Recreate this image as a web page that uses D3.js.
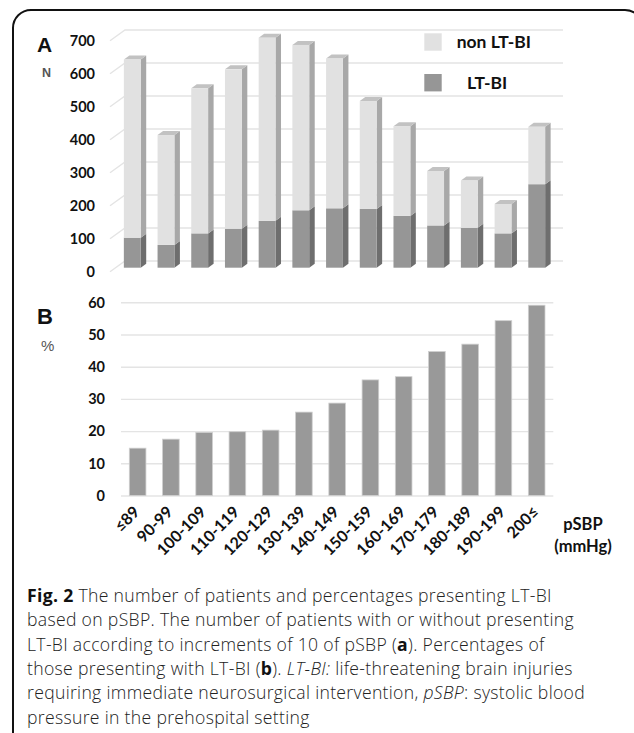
<!DOCTYPE html>
<html>
<head>
<meta charset="utf-8">
<script src="https://cdn.jsdelivr.net/npm/d3@7"></script>
<style>
  html, body { margin: 0; padding: 0; background: #fff; }
  svg { display: block; }
</style>
</head>
<body>
<svg id="fig" width="634" height="733"></svg>
<script>
// pSBP groups (mmHg)
const categories = ["≤89", "90-99", "100-109", "110-119", "120-129", "130-139", "140-149",
  "150-159", "160-169", "170-179", "180-189", "190-199", "200≤"];
// Panel A: number of patients
const ltbiCounts    = [91, 69, 104, 118, 142, 174, 180, 178, 157, 128, 121, 104, 253];
const nonLtbiCounts = [540, 333, 440, 483, 555, 501, 454, 327, 272, 165, 143, 89, 174];
// Panel B: percentage presenting LT-BI
const ltbiPercent = [14.7, 17.5, 19.6, 19.8, 20.3, 25.9, 28.7, 35.9, 36.9, 44.7, 47.0, 54.3, 59.1];
// Axis ticks
const ticksA = [0, 100, 200, 300, 400, 500, 600, 700];
const ticksB = [0, 10, 20, 30, 40, 50, 60];
const seriesNames = ["LT-BI", "non LT-BI"];

const svg = d3.select("#fig");
const boldFont = "Lato, 'Open Sans', sans-serif";

// outer frame
svg.append("rect")
  .attr("x", 13).attr("y", 10).attr("width", 630).attr("height", 740)
  .attr("rx", 18).attr("ry", 18)
  .attr("fill", "none").attr("stroke", "#111").attr("stroke-width", 2);

// ---------- Panel A: stacked 3D columns ----------
const xA = d3.scaleBand().domain(categories).range([107, 562]).paddingInner(0.5).paddingOuter(0.5);
const yA = d3.scaleLinear().domain([0, 700]).range([267.7, 36.7]);
const depth = { dx: 5.5, dy: 4 };       // bar thickness
const wall = { dx: 15, dy: 10.7 };      // floor depth for the gridlines
const gA = svg.append("g");

// gridlines on back wall with slanted side edge
const gridA = gA.append("g");
ticksA.forEach(v => {
  const yf = yA(v) + 4, yb = yf - wall.dy;
  gridA.append("path")
    .attr("d", `M110,${yf}L${110 + wall.dx},${yb}L563,${yb}`)
    .attr("fill", "none").attr("stroke", "#e4e4e4").attr("stroke-width", 1.4);
});

// y tick labels
gA.append("g").selectAll("text").data(ticksA).join("text")
  .attr("x", 95).attr("y", d => yA(d) + 4)
  .attr("dy", "0.36em").attr("text-anchor", "end")
  .attr("font-family", boldFont).attr("font-weight", 700).attr("font-size", 14.5)
  .attr("fill", "#111").text(d => d);

const stackRows = categories.map((c, i) => ({ cat: c, "LT-BI": ltbiCounts[i], "non LT-BI": nonLtbiCounts[i] }));
const stacked = d3.stack().keys(seriesNames)(stackRows);
const faceColors = {
  "LT-BI":     { front: "#969696", side: "#6e6e6e", top: "#7f7f7f" },
  "non LT-BI": { front: "#e1e1e1", side: "#a8a8a8", top: "#c2c2c2" }
};
const bw = xA.bandwidth();
stacked.forEach((layer, li) => {
  const col = faceColors[layer.key];
  const lg = gA.append("g");
  layer.forEach(seg => {
    const x = xA(seg.data.cat);
    const y0 = yA(seg[0]), y1 = yA(seg[1]);
    // side face
    lg.append("path")
      .attr("d", `M${x + bw},${y1}L${x + bw + depth.dx},${y1 - depth.dy}L${x + bw + depth.dx},${y0 - depth.dy}L${x + bw},${y0}Z`)
      .attr("fill", col.side);
    // top face on the upper segment
    if (li === stacked.length - 1) {
      lg.append("path")
        .attr("d", `M${x},${y1}L${x + depth.dx},${y1 - depth.dy}L${x + bw + depth.dx},${y1 - depth.dy}L${x + bw},${y1}Z`)
        .attr("fill", col.top);
    }
    // front face
    lg.append("rect")
      .attr("x", x).attr("y", y1).attr("width", bw).attr("height", y0 - y1)
      .attr("fill", col.front);
  });
});

// legend
const legend = gA.append("g");
const legendItems = [
  { key: "non LT-BI", y: 33.3, tx: 456.7 },
  { key: "LT-BI", y: 74, tx: 467 }
];
legendItems.forEach(it => {
  legend.append("rect").attr("x", 424.3).attr("y", it.y).attr("width", 17.4).attr("height", 17.4)
    .attr("fill", faceColors[it.key].front);
  legend.append("text").attr("x", it.tx).attr("y", it.y + 8.7).attr("dy", "0.36em")
    .attr("font-family", boldFont).attr("font-weight", 700).attr("font-size", 17.5)
    .attr("fill", "#111").text(it.key);
});

// panel letter + unit
svg.append("text").attr("x", 37).attr("y", 52).attr("font-family", "'Liberation Sans', Arial, sans-serif")
  .attr("font-weight", 700).attr("font-size", 21).attr("fill", "#111").text("A");
svg.append("text").attr("x", 42).attr("y", 77).attr("font-family", "'Liberation Sans', Arial, sans-serif")
  .attr("font-weight", 700).attr("font-size", 12.5).attr("fill", "#555").text("N");

// ---------- Panel B: percentage columns ----------
const xB = d3.scaleBand().domain(categories).range([121, 553.3]).paddingInner(0.5).paddingOuter(0.25);
const yB = d3.scaleLinear().domain([0, 60]).range([495.5, 302.3]);
const gB = svg.append("g");

gB.append("g").attr("transform", "translate(121,0)")
  .call(d3.axisLeft(yB).tickValues(ticksB).tickSize(-(553.3 - 121)).tickFormat(""))
  .call(g => g.select(".domain").remove())
  .call(g => g.selectAll("line").attr("stroke", "#e4e4e4").attr("stroke-width", 1.4));

gB.append("g").selectAll("text").data(ticksB).join("text")
  .attr("x", 105).attr("y", d => yB(d))
  .attr("dy", "0.36em").attr("text-anchor", "end")
  .attr("font-family", boldFont).attr("font-weight", 700).attr("font-size", 14.5)
  .attr("fill", "#111").text(d => d);

gB.append("g").selectAll("rect").data(categories).join("rect")
  .attr("x", d => xB(d)).attr("width", xB.bandwidth())
  .attr("y", (d, i) => yB(ltbiPercent[i]))
  .attr("height", (d, i) => yB(0) - yB(ltbiPercent[i]))
  .attr("fill", "#999999").attr("stroke", "#cfcfcf").attr("stroke-width", 0.8);

// rotated category labels
gB.append("g").selectAll("text").data(categories).join("text")
  .attr("transform", d => `translate(${xB(d) + xB.bandwidth() / 2 + 3},${513}) rotate(-45)`)
  .attr("text-anchor", "end")
  .attr("font-family", boldFont).attr("font-weight", 700).attr("font-size", 16)
  .attr("fill", "#111").text(d => d);

// x-axis title
const xt = gB.append("text").attr("text-anchor", "middle")
  .attr("font-family", boldFont).attr("font-weight", 700).attr("font-size", 16.5).attr("fill", "#111");
xt.append("tspan").attr("x", 583).attr("y", 530).text("pSBP");
xt.append("tspan").attr("x", 583).attr("y", 552).text("(mmHg)");

svg.append("text").attr("x", 37).attr("y", 324).attr("font-family", "'Liberation Sans', Arial, sans-serif")
  .attr("font-weight", 700).attr("font-size", 22).attr("fill", "#111").text("B");
svg.append("text").attr("x", 41).attr("y", 351).attr("font-family", "'Liberation Sans', Arial, sans-serif")
  .attr("font-size", 15).attr("fill", "#555").text("%");

// ---------- caption ----------
const captionLines = [
  [["Fig. 2", "b"], [" The number of patients and percentages presenting LT-BI", ""]],
  [["based on pSBP. The number of patients with or without presenting", ""]],
  [["LT-BI according to increments of 10 of pSBP (", ""], ["a", "b"], ["). Percentages of", ""]],
  [["those presenting with LT-BI (", ""], ["b", "b"], ["). ", ""], ["LT-BI:", "i"], [" life-threatening brain injuries", ""]],
  [["requiring immediate neurosurgical intervention, ", ""], ["pSBP", "i"], [": systolic blood", ""]],
  [["pressure in the prehospital setting", ""]]
];
const cap = svg.append("g").attr("font-family", "'Open Sans', sans-serif").attr("font-size", 17.6)
  .attr("letter-spacing", 0.32).attr("font-weight", 300).attr("fill", "#222");
captionLines.forEach((parts, li) => {
  const t = cap.append("text").attr("x", 27).attr("y", 602 + li * 24.3);
  parts.forEach(([s, f]) => {
    const sp = t.append("tspan").text(s);
    if (f === "b") sp.attr("font-weight", 700).attr("fill", "#111");
    if (f === "i") sp.attr("font-style", "italic");
  });
});
</script>
</body>
</html>
